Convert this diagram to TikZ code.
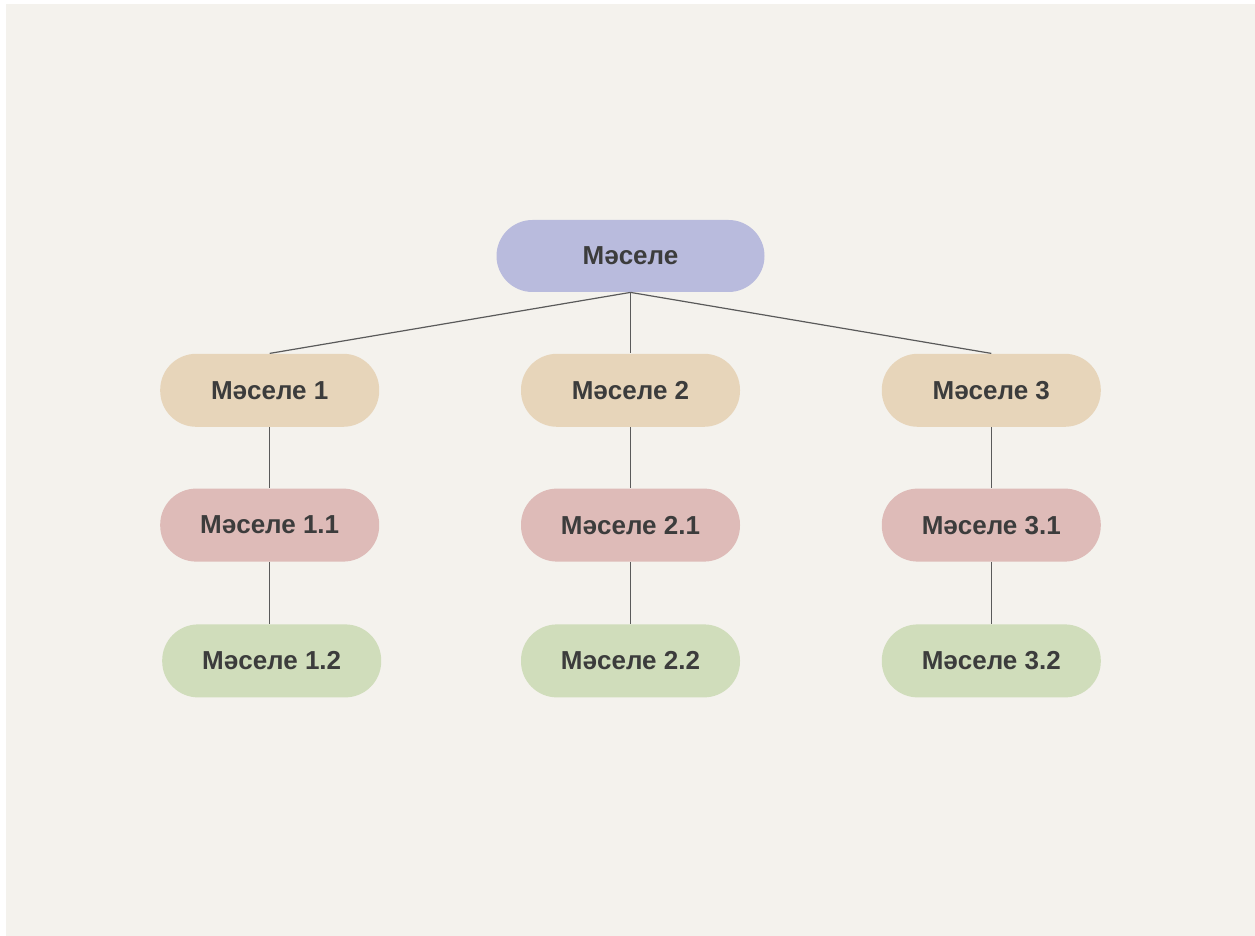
\documentclass[tikz,border=0pt]{standalone}
\usepackage{fontspec}
\setmainfont{Liberation Sans}
\usetikzlibrary{positioning}
\definecolor{pagebg}{HTML}{F4F2ED}
\definecolor{rootfill}{HTML}{B9BBDD}
\definecolor{onefill}{HTML}{E7D5BA}
\definecolor{twofill}{HTML}{DEBBB8}
\definecolor{threefill}{HTML}{D0DDBB}
\definecolor{inkgray}{HTML}{3C3C3C}
\definecolor{linegray}{HTML}{5A5A5A}
\tikzset{pill/.style={draw=none,rounded corners=18pt,minimum width=109.5pt,
    minimum height=36.5pt,inner sep=0pt,text=inkgray,font=\bfseries\fontsize{13}{15}\selectfont},
    rootpill/.style={pill,fill=rootfill,minimum width=134pt,minimum height=36pt},
    onepill/.style={pill,fill=onefill},
    twopill/.style={pill,fill=twofill},
    threepill/.style={pill,fill=threefill},
    link/.style={draw=linegray,line width=0.6pt},
    node distance=30.5pt and 70.5pt}

\begin{document}
\begin{tikzpicture}[x=0.5pt,y=0.5pt]
	\useasboundingbox (0,0) rectangle (1255,-936);
	\fill[pagebg] (6,-4) rectangle (1255,-936);
	\node[rootpill] (root) at (630.5,-256) {Мәселе};
	\node[onepill,below=30.5pt of root] (m2) {Мәселе 2};
	\node[onepill,left=of m2] (m1) {Мәселе 1};
	\node[onepill,right=of m2] (m3) {Мәселе 3};
	\node[twopill,below=of m1] (m11) {Мәселе 1.1};
	\node[twopill,below=of m2] (m21) {Мәселе 2.1};
	\node[twopill,below=of m3] (m31) {Мәселе 3.1};
	\node[threepill,below=31pt of m11,xshift=1pt] (m12) {Мәселе 1.2};
	\node[threepill,below=31pt of m21] (m22) {Мәселе 2.2};
	\node[threepill,below=31pt of m31] (m32) {Мәселе 3.2};
	\foreach \kid in {m1,m2,m3}
		\draw[link] (root.south) -- (\kid.north);
	\draw[link] (m1) -- (m11);
	\draw[link] (m11.south) -- (m11.south |- m12.north);
	\draw[link] (m2) -- (m21) (m21) -- (m22);
	\draw[link] (m3) -- (m31) (m31) -- (m32);
\end{tikzpicture}
\end{document}
